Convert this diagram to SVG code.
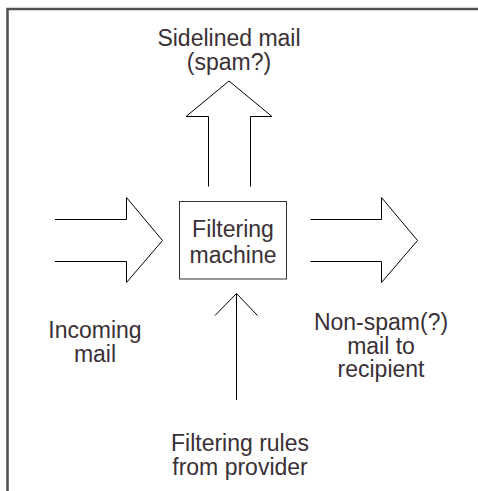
<svg xmlns="http://www.w3.org/2000/svg" width="478" height="491" viewBox="0 0 478 491">
<style>
.t{font-family:"Liberation Sans",Arial,sans-serif;font-size:23px;fill:#3a3036;text-anchor:middle}
.a{fill:none;stroke:#000;stroke-width:1}
.frame{fill:none;stroke:#505050;stroke-width:2.5}
</style>
<rect width="478" height="491" fill="#fff"/>
<path class="frame" d="M7.5,491 V9 H478"/>
<g id="connectors">
<path id="up-arrow" class="a" d="M208.5,186.5 V116.5 H186 L229,81 L272,116.5 H250.5 V186.5"/>
<path id="left-arrow" class="a" d="M55,219.5 H126.5 V197.5 L162.5,240.5 L126.5,282.5 V261.5 H55"/>
<path id="right-arrow" class="a" d="M310.5,219.5 H381.5 V197.5 L417.5,240.5 L381.5,282.5 V261.5 H310.5"/>
<path id="bottom-arrow" class="a" d="M236.5,400 V293.5 M215,315.5 L236.5,293.5 L257.5,315.5"/>
</g>
<g id="filtering-machine">
<rect x="179.5" y="201.5" width="107" height="77.5" fill="#fff" stroke="#333" stroke-width="1"/>
<text class="t" x="233" y="237">Filtering</text>
<text class="t" x="233" y="263">machine</text>
</g>
<g id="sidelined-mail">
<text class="t" x="229" y="46">Sidelined mail</text>
<text class="t" x="229" y="70">(spam?)</text>
</g>
<g id="incoming-mail">
<text class="t" x="95" y="338">Incoming</text>
<text class="t" x="95" y="362">mail</text>
</g>
<g id="non-spam">
<text class="t" x="381" y="330">Non-spam(?)</text>
<text class="t" x="381" y="353.5">mail to</text>
<text class="t" x="381" y="377">recipient</text>
</g>
<g id="filtering-rules">
<text class="t" x="240" y="451">Filtering rules</text>
<text class="t" x="240" y="475">from provider</text>
</g>
</svg>
